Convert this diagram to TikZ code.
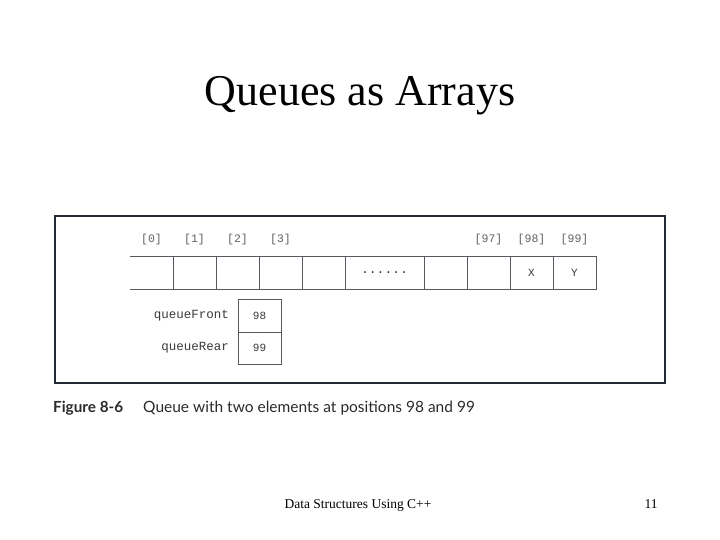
\documentclass[tikz,border=0pt]{standalone}
\usepackage{fontspec}
\setmainfont{Liberation Serif}
\setmonofont{Liberation Mono}
\newfontfamily\capfont{Lato}
\usetikzlibrary{positioning}
\definecolor{framecol}{HTML}{222B33}
\definecolor{cellcol}{HTML}{555A60}
\definecolor{txtcol}{HTML}{3A3A3A}
\definecolor{capcol}{HTML}{2A2A2A}

\begin{document}
\begin{tikzpicture}[
  x=1pt, y=-1pt,
  cell/.style ={minimum width=43pt, minimum height=33pt, inner sep=0pt, outer sep=0pt,
                font=\fontsize{11}{11}\ttfamily, text=txtcol},
  idx/.style  ={inner sep=0pt, font=\fontsize{11.5}{11.5}\ttfamily, text=txtcol!80},
  ptr/.style  ={draw=cellcol, line width=0.7pt, minimum width=43pt, inner sep=0pt, outer sep=0pt,
                font=\fontsize{11}{11}\ttfamily, text=txtcol},
  varname/.style={inner sep=0pt, font=\fontsize{12.5}{12.5}\ttfamily, text=txtcol},
  rowline/.style={draw=cellcol, line width=0.8pt},
]
\useasboundingbox (0,0) rectangle (720,540);

% ======================= title =======================
\node[anchor=base, inner sep=0pt, font=\fontsize{44}{44}\selectfont] (title) at (360,106) {Queues as Arrays};

% ======================= figure frame =======================
\draw[framecol, line width=1.8pt] (55,216) rectangle (665,383);

% ======================= array row =======================
\node[cell] (c0) at (151.5,272.5) {};
\node[cell, right=0pt of c0] (c1) {};
\node[cell, right=0pt of c1] (c2) {};
\node[cell, right=0pt of c2] (c3) {};
\node[cell, right=0pt of c3] (c4) {};
\node[cell, right=0pt of c4, minimum width=79pt, font=\fontsize{13}{13}\ttfamily] (dots) {......};
\node[cell, right=0pt of dots] (c96) {};
\node[cell, right=0pt of c96] (c97) {};
\node[cell, right=0pt of c97] (c98) {X};
\node[cell, right=0pt of c98] (c99) {Y};

\draw[rowline] (c0.north west) -- (c99.north east) -- (c99.south east) -- (c0.south west);
\foreach \c in {c0,c1,c2,c3,c4,dots,c96,c97,c98}
  \draw[rowline] (\c.north east) -- (\c.south east);

% index labels
\foreach \c/\i in {c0/0,c1/1,c2/2,c3/3,c97/97,c98/98,c99/99}
  \node[idx, above=11pt of \c] (i\i) {[\i]};

% ======================= front / rear =======================
\node[ptr, minimum height=33pt] (front) at (259.5,315.5) {98};
\node[ptr, minimum height=32pt, below=0pt of front] (rear) {99};
\node[varname, left=9pt of front] (frontlbl) {queueFront};
\node[varname, left=9pt of rear] (rearlbl) {queueRear};

% ======================= caption =======================
\node[anchor=base west, inner sep=0pt, text=capcol, font=\fontsize{15.3}{15.3}\capfont\bfseries] (fignum) at (53,412) {Figure 8-6};
\node[anchor=base west, inner sep=0pt, text=capcol, font=\fontsize{15.5}{15.5}\capfont] (figcap) at (143,412) {Queue with two elements at positions 98 and 99};

% ======================= footer =======================
\node[anchor=base, inner sep=0pt, font=\fontsize{13.5}{13.5}\selectfont] (foot) at (358,508) {Data Structures Using C++};
\node[anchor=base, inner sep=0pt, font=\fontsize{13.5}{13.5}\selectfont] (page) at (651,508) {11};
\end{tikzpicture}
\end{document}
